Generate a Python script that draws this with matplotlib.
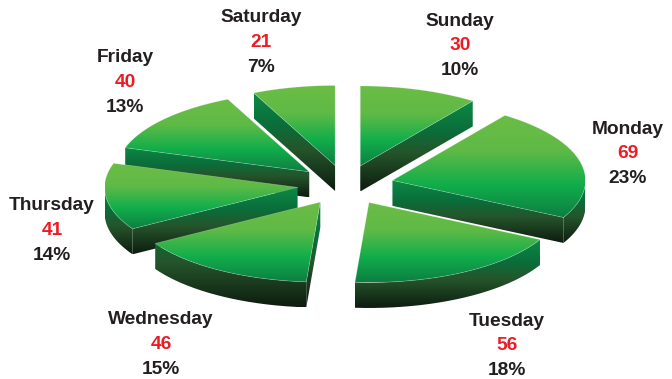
import numpy as np
import matplotlib
matplotlib.use("Agg")
import matplotlib.pyplot as plt
from matplotlib.colors import LinearSegmentedColormap
from matplotlib.patches import PathPatch
from matplotlib.path import Path

days = ["Sunday", "Monday", "Tuesday", "Wednesday", "Thursday", "Friday", "Saturday"]
counts = [30, 69, 56, 46, 41, 40, 21]
percents = ["10%", "23%", "18%", "15%", "14%", "13%", "7%"]

label_x = [460, 628, 507, 161, 52, 125, 261]
label_y = [21, 129, 321, 320, 206, 58, 18]
LINE_GAP = 24.7

CX, CY, A, B, DEPTH, EXPLODE = 345.5, 185.0, 193.0, 80.0, 25.5, 0.25

top_cmap = LinearSegmentedColormap.from_list("top", [
    (0.0, "#6bbd45"), (0.35, "#5fba46"), (0.68, "#12ae4b"), (1.0, "#0c7f42")])
wall_cmap = LinearSegmentedColormap.from_list("wall", [
    (0.0, "#0c8a45"), (0.33, "#0a6e3b"), (0.58, "#25552b"), (1.0, "#0e1c0f")])

plt.rcParams["font.family"] = ["Liberation Sans", "DejaVu Sans"]
fig = plt.figure(figsize=(6.72, 3.79), dpi=100)
ax = fig.add_axes([0, 0, 1, 1])
grad = np.linspace(0, 1, 256).reshape(-1, 1)


def fill(poly, cmap, extent):
    patch = PathPatch(Path(np.vstack([poly, poly[0]])), fc="none", ec="none")
    ax.add_patch(patch)
    im = ax.imshow(grad, cmap=cmap, extent=extent, aspect="auto",
                   interpolation="bilinear", origin="upper", vmin=0, vmax=1)
    im.set_clip_path(patch)


frac = np.array(counts) / sum(counts) * 2 * np.pi
starts = np.concatenate([[0], np.cumsum(frac)[:-1]])
mids = starts + frac / 2
order = np.argsort(-np.cos(mids))

for i in order:
    ox = CX + EXPLODE * A * np.sin(mids[i])
    oy = CY - EXPLODE * B * np.cos(mids[i])
    s, e = starts[i], starts[i] + frac[i]
    t = np.linspace(s, e, 120)
    arc = np.column_stack([ox + A * np.sin(t), oy - B * np.cos(t)])
    apex = np.array([ox, oy])
    top = np.vstack([apex, arc])
    down = np.array([0, DEPTH])

    x0, x1 = top[:, 0].min(), top[:, 0].max()
    ytop, ybot = top[:, 1].min(), top[:, 1].max()

    # only faces turned toward the viewer; they share one vertical gradient
    faces = []
    if np.sin(s) < -1e-6:
        faces.append(np.array([apex, arc[0], arc[0] + down, apex + down]))
    if np.sin(e) > 1e-6:
        faces.append(np.array([apex, arc[-1], arc[-1] + down, apex + down]))
    front = arc[np.cos(t) <= 0]
    if len(front) > 1:
        faces.append(np.vstack([front, (front + down)[::-1]]))
    if faces:
        wtop = min(f[:, 1].min() for f in faces)
        wbot = max(f[:, 1].max() for f in faces)
        for f in faces:
            fill(f, wall_cmap, (x0, x1, wbot, wtop))

    fill(top, top_cmap, (x0, x1, ybot, ytop))
    ax.plot(np.r_[top[:, 0], top[0, 0]], np.r_[top[:, 1], top[0, 1]],
            color="white", lw=0.5, alpha=0.3, solid_joinstyle="miter")

for d, c, p, x, y in zip(days, counts, percents, label_x, label_y):
    ax.text(x, y, d, ha="center", va="center", fontsize=13.8, fontweight="bold", color="#231f20")
    ax.text(x, y + LINE_GAP, str(c), ha="center", va="center", fontsize=13.8, fontweight="bold", color="#ed1c24")
    ax.text(x, y + 2 * LINE_GAP, p, ha="center", va="center", fontsize=13.8, fontweight="bold", color="#231f20")

ax.set_xlim(0, 672)
ax.set_ylim(379, 0)
ax.axis("off")
fig.savefig("out.png", dpi=100, facecolor="white")
